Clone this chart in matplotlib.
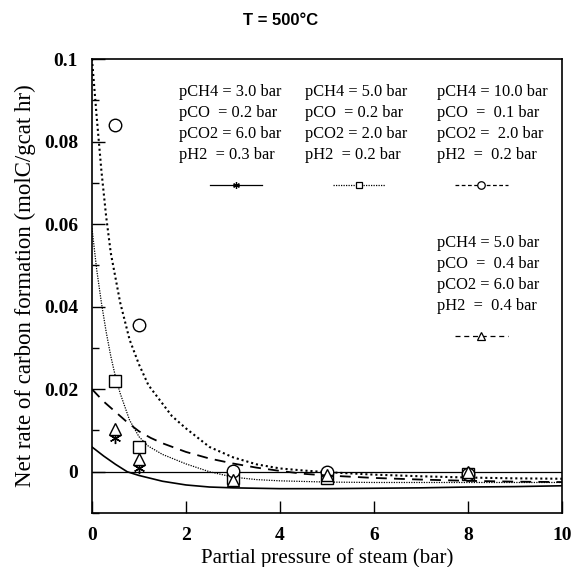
"""Net rate of carbon formation vs. steam partial pressure at T = 500 C."""

import matplotlib

matplotlib.use("Agg")
import matplotlib.pyplot as plt
from matplotlib.lines import Line2D

# measured points (steam pressure, bar)
steam = [0.5, 1.0, 3.0, 5.0, 8.0]
rate_ch4_3 = [0.0082, 0.0008, -0.0022, -0.0006, -0.0004]
rate_ch4_5 = [0.0220, 0.0060, -0.0014, -0.0015, -0.0005]
rate_ch4_10 = [0.0840, 0.0355, 0.0001, -0.0001, -0.0005]
rate_co2_6 = [0.0103, 0.0032, -0.0020, -0.0008, -0.0001]

# model curves
fit_x_ch4_3 = [0, 0.25, 0.5, 0.75, 1.0, 1.25, 1.5, 2.0, 2.5, 3.0, 4.0, 5.0, 6.0, 7.0, 8.0, 9.0, 10]
fit_y_ch4_3 = [0.0060, 0.0038, 0.0018, 0.0000, -0.0009, -0.0016, -0.0023, -0.0032, -0.0037, -0.0039,
               -0.0041, -0.0041, -0.0040, -0.0039, -0.0037, -0.0036, -0.0034]

fit_x_ch4_5 = [0, 0.1, 0.2, 0.3, 0.4, 0.5, 0.6, 0.8, 1.0, 1.2, 1.5, 2.0, 2.5, 3.0, 3.5, 4.0, 5.0, 6.0, 8.0, 10]
fit_y_ch4_5 = [0.059, 0.049, 0.041, 0.034, 0.028, 0.023, 0.019, 0.0125, 0.0085, 0.0062, 0.0042, 0.0019,
               0.0000, -0.0013, -0.0019, -0.0022, -0.0025, -0.0026, -0.0026, -0.0026]

fit_x_ch4_10 = [0, 0.1, 0.2, 0.3, 0.4, 0.5, 0.6, 0.8, 1.0, 1.2, 1.4, 1.7, 2.0, 2.5, 3.0, 3.5, 4.0,
                4.5, 5.0, 6.0, 7.0, 8.0, 9.0, 10]
fit_y_ch4_10 = [0.100, 0.086, 0.073, 0.062, 0.053, 0.047, 0.041, 0.032, 0.026, 0.021, 0.018, 0.0135,
                0.0105, 0.0060, 0.0035, 0.0018, 0.0008, 0.0003, -0.0001, -0.0007, -0.0011, -0.0014,
                -0.0016, -0.0017]

fit_x_co2_6 = [0, 0.25, 0.5, 0.75, 1.0, 1.25, 1.5, 2.0, 2.5, 3.0, 3.5, 4.0, 4.5, 5.0, 5.5, 6.0, 7.0, 8.0, 9.0, 10]
fit_y_co2_6 = [0.0200, 0.0170, 0.0145, 0.0120, 0.0098, 0.0082, 0.0069, 0.0048, 0.0032, 0.0020, 0.0010,
               0.0002, -0.0005, -0.0009, -0.0012, -0.0015, -0.0019, -0.0022, -0.0024, -0.0025]

conditions = {
    "ch4_3": ["pCH4 = 3.0 bar", "pCO  = 0.2 bar", "pCO2 = 6.0 bar", "pH2  = 0.3 bar"],
    "ch4_5": ["pCH4 = 5.0 bar", "pCO  = 0.2 bar", "pCO2 = 2.0 bar", "pH2  = 0.2 bar"],
    "ch4_10": ["pCH4 = 10.0 bar", "pCO  =  0.1 bar", "pCO2 =  2.0 bar", "pH2  =  0.2 bar"],
    "co2_6": ["pCH4 = 5.0 bar", "pCO  =  0.4 bar", "pCO2 = 6.0 bar", "pH2  =  0.4 bar"],
}

x_ticks = [0, 2, 4, 6, 8, 10]
y_ticks = [0, 0.02, 0.04, 0.06, 0.08, 0.1]
y_tick_labels = ["0", "0.02", "0.04", "0.06", "0.08", "0.1"]

serif = ["Liberation Serif", "DejaVu Serif"]

styles = {
    "ch4_3": dict(ls="-", lw=1.2, marker=(6, 2, 0), ms=8, key_ls="-"),
    "ch4_5": dict(ls=(0, (1, 1)), lw=0.9, marker="s", ms=8, key_ls=(0, (1, 1))),
    "ch4_10": dict(ls=(0, (1, 1.4)), lw=1.5, marker="o", ms=9, key_ls=(0, (3, 2))),
    "co2_6": dict(ls=(0, (6, 4)), lw=1.3, marker="^", ms=9, key_ls=(0, (4, 3))),
}

fig = plt.figure(figsize=(5.72, 5.67), dpi=100)
ax = fig.add_axes([0.1608, 0.0952, 0.8217, 0.8007])

ax.axhline(0, color="black", lw=0.9)

curves = {
    "ch4_3": (fit_x_ch4_3, fit_y_ch4_3, rate_ch4_3),
    "ch4_5": (fit_x_ch4_5, fit_y_ch4_5, rate_ch4_5),
    "ch4_10": (fit_x_ch4_10, fit_y_ch4_10, rate_ch4_10),
    "co2_6": (fit_x_co2_6, fit_y_co2_6, rate_co2_6),
}
for key, (fx, fy, pts) in curves.items():
    st = styles[key]
    ax.plot(fx, fy, color="black", ls=st["ls"], lw=st["lw"])
    ax.plot(steam, pts, ls="none", marker=st["marker"], ms=st["ms"],
            mfc="white", mec="black", mew=1.0)

# hand-placed legend blocks: text above a line sample
blocks = {
    "ch4_3": (0.185, 0.927, 0.251, 0.362),
    "ch4_5": (0.453, 0.927, 0.513, 0.623),
    "ch4_10": (0.734, 0.927, 0.772, 0.885),
    "co2_6": (0.734, 0.595, 0.772, 0.885),
}
for key, (tx, ty, lx0, lx1) in blocks.items():
    for i, line in enumerate(conditions[key]):
        ax.text(tx, ty - i * 0.046, line, transform=ax.transAxes, fontsize=11.8,
                family=serif, va="center", ha="left")
    st = styles[key]
    sy = ty - 0.205
    ax.add_line(Line2D([lx0, lx1], [sy, sy], transform=ax.transAxes, color="black",
                       ls=st["key_ls"], lw=0.9))
    ax.add_line(Line2D([(lx0 + lx1) / 2], [sy], transform=ax.transAxes, ls="none",
                       marker=st["marker"], ms=st["ms"] * 0.6, mfc="white", mec="black", mew=0.9))

ax.set_xlim(0, 10)
ax.set_ylim(-0.01, 0.1)
ax.set_xticks(x_ticks)
ax.set_yticks(y_ticks)
ax.set_yticklabels(y_tick_labels)
ax.set_yticks([-0.01, 0.01, 0.03, 0.05, 0.07, 0.09], minor=True)
ax.tick_params(axis="both", which="major", direction="in", length=9, width=1.0, pad=10)
ax.tick_params(axis="y", which="minor", direction="in", length=5, width=1.0)
for lab in ax.get_xticklabels() + ax.get_yticklabels():
    lab.set_family(serif)
    lab.set_fontsize(14)
    lab.set_fontweight("bold")
for sp in ax.spines.values():
    sp.set_linewidth(1.2)

ax.set_xlabel("Partial pressure of steam (bar)", family=serif, fontsize=15, labelpad=3)
ax.set_ylabel("Net rate of carbon formation (molC/gcat hr)", family=serif, fontsize=16.5, labelpad=6)
fig.text(0.49, 0.963, "T = 500°C", ha="center", va="center", fontsize=12, fontweight="bold",
         family=["Liberation Sans", "DejaVu Sans"])

fig.savefig("out.png", dpi=100)
